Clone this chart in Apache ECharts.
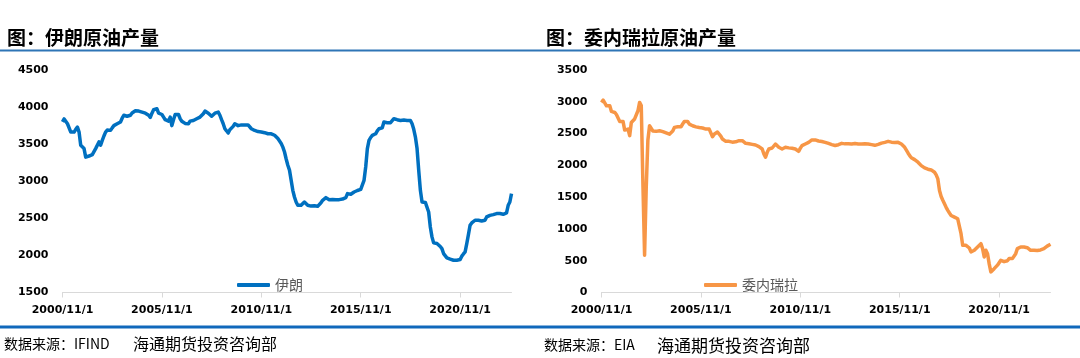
<!DOCTYPE html>
<html>
<head>
<meta charset="utf-8">
<script src="https://cdn.jsdelivr.net/npm/echarts@6/dist/echarts.min.js"></script>
<style>
html,body{margin:0;padding:0;background:#fff;}
#c{width:1080px;height:358px;}
</style>
</head>
<body>
<div id="c"></div>
<script>
// Monthly dates from 2000/11 to 2023/6 (categories)
const startYear = 2000, startMonth = 11, monthCount = 272;
const categories = [];
for (let i = 0; i < monthCount; i++) {
  const t = startYear * 12 + (startMonth - 1) + i;
  categories.push(Math.floor(t / 12) + '/' + (t % 12 + 1) + '/1');
}

const titleLeft = '图：伊朗原油产量';
const titleRight = '图：委内瑞拉原油产量';
const sourceLeft = ['数据来源：IFIND', '海通期货投资咨询部'];
const sourceRight = ['数据来源：EIA', '海通期货投资咨询部'];
const seriesLeftName = '伊朗';
const seriesRightName = '委内瑞拉';

// Iran crude production (kb/d), monthly
const iran = [
3800,3840,3830,3775,3800,3663,3670,3663,3700,3730,3663,3484,
3460,3440,3325,3325,3340,3350,3360,3370,3440,3420,3530,3485,
3550,3610,3663,3690,3710,3686,3720,3750,3760,3775,3780,3800,
3850,3890,3880,3876,3885,3890,3920,3946,3950,3946,3946,3940,
3932,3925,3918,3905,3890,3860,3918,3964,3970,3977,3918,3910,
3900,3865,3830,3820,3811,3865,3750,3830,3900,3905,3900,3843,
3810,3789,3780,3790,3775,3811,3815,3820,3830,3843,3850,3865,
3890,3910,3946,3930,3918,3910,3876,3900,3918,3925,3932,3890,
3830,3775,3708,3680,3650,3695,3720,3740,3775,3760,3750,3740,
3760,3775,3760,3740,3760,3775,3708,3700,3685,3675,3670,3663,
3665,3663,3655,3650,3640,3645,3640,3640,3620,3596,3575,3550,
3510,3460,3394,3300,3215,3150,3125,2878,2788,2720,2676,2680,
2676,2700,2720,2700,2676,2670,2665,2662,2670,2665,2662,2685,
2710,2743,2760,2779,2765,2752,2750,2755,2752,2750,2755,2752,
2752,2760,2770,2779,2833,2820,2824,2840,2855,2860,2875,2887,
2890,2887,3013,3192,3440,3550,3590,3618,3630,3640,3680,3708,
3715,3720,3798,3811,3790,3775,3790,3811,3843,3835,3830,3825,
3820,3820,3825,3820,3820,3820,3820,3775,3700,3596,3440,3147,
2878,2720,2720,2715,2710,2586,2384,2250,2169,2160,2160,2140,
2120,2092,2025,2000,1967,1960,1950,1944,1935,1935,1935,1938,
1944,1990,2020,2048,2160,2280,2406,2438,2460,2474,2474,2474,
2470,2465,2470,2474,2519,2530,2540,2545,2550,2555,2564,2560,
2564,2560,2555,2560,2573,2676,2720,2833
];

// Venezuela crude production (kb/d), monthly
const venezuela = [
2990,3026,3005,2937,2940,2937,2848,2840,2832,2800,2780,2691,
2700,2691,2555,2545,2571,2467,2675,2702,2730,2754,2859,2990,
2940,1700,585,1650,2400,2623,2597,2540,2519,2535,2540,2545,
2545,2530,2519,2510,2503,2490,2467,2540,2597,2600,2608,2605,
2608,2650,2691,2695,2691,2649,2635,2623,2615,2605,2597,2595,
2590,2587,2580,2571,2575,2570,2571,2451,2490,2519,2525,2519,
2460,2414,2395,2378,2380,2378,2370,2365,2362,2370,2380,2388,
2385,2388,2360,2346,2345,2340,2336,2330,2325,2320,2310,2295,
2280,2258,2179,2127,2205,2258,2265,2273,2300,2336,2310,2284,
2270,2258,2270,2284,2280,2275,2273,2270,2265,2258,2240,2221,
2270,2310,2320,2336,2350,2362,2380,2400,2414,2400,2388,2383,
2378,2375,2370,2362,2355,2345,2335,2326,2315,2312,2310,2325,
2340,2346,2340,2338,2336,2340,2336,2336,2340,2345,2338,2336,
2335,2336,2336,2338,2336,2336,2330,2326,2320,2315,2310,2330,
2346,2350,2355,2362,2370,2378,2370,2365,2362,2360,2362,2362,
2350,2336,2310,2284,2240,2195,2153,2120,2101,2090,2075,2050,
2020,1996,1980,1960,1944,1940,1935,1928,1910,1892,1850,1787,
1604,1510,1450,1395,1340,1291,1250,1212,1200,1186,1175,1160,
1134,925,742,760,742,768,700,638,650,664,690,716,
740,768,690,559,664,611,450,324,350,375,402,430,
455,507,495,485,481,500,533,525,533,560,611,690,
700,716,710,716,712,705,690,664,670,665,664,660,
664,670,664,690,716,730,742,758
];

const yLeft = {min: 1500, max: 4500, interval: 500};
const yRight = {min: 0, max: 3500, interval: 500};

const BLUE = '#0070c0';
const ORANGE = '#f79646';
const axisFont = {fontFamily: 'DejaVu Sans', fontWeight: 'bold', fontSize: 11, color: '#000'};

function xAxisFor(gridIndex) {
  return {
    type: 'category', gridIndex, data: categories, boundaryGap: false,
    axisLine: {lineStyle: {color: '#d9d9d9', width: 1}},
    axisTick: {show: true, interval: 59, length: 5, lineStyle: {color: '#d9d9d9'}},
    axisLabel: Object.assign({interval: 59, margin: 12}, axisFont),
    splitLine: {show: false}
  };
}
function yAxisFor(gridIndex, r) {
  return {
    type: 'value', gridIndex, min: r.min, max: r.max, interval: r.interval,
    axisLine: {show: false}, axisTick: {show: false}, splitLine: {show: false},
    axisLabel: Object.assign({margin: 14, formatter: v => String(v)}, axisFont)
  };
}
function legendFor(name, left) {
  return {
    data: [name], left, top: 278, padding: 0, icon: 'roundRect',
    itemWidth: 33, itemHeight: 4, itemGap: 0,
    textStyle: {fontFamily: 'Noto Sans CJK SC', fontSize: 14, color: '#595959'}
  };
}

const chart = echarts.init(document.getElementById('c'), null, {renderer: 'canvas'});
chart.setOption({
  animation: false,
  backgroundColor: '#fff',
  grid: [
    {left: 62.5, top: 70, width: 449, height: 222.5},
    {left: 601.5, top: 70, width: 449, height: 222.5}
  ],
  xAxis: [xAxisFor(0), xAxisFor(1)],
  yAxis: [yAxisFor(0, yLeft), yAxisFor(1, yRight)],
  legend: [legendFor(seriesLeftName, 237), legendFor(seriesRightName, 704)],
  series: [
    {name: seriesLeftName, type: 'line', xAxisIndex: 0, yAxisIndex: 0, data: iran,
     symbol: 'none', color: BLUE, lineStyle: {width: 3.5, color: BLUE, join: 'round'}},
    {name: seriesRightName, type: 'line', xAxisIndex: 1, yAxisIndex: 1, data: venezuela,
     symbol: 'none', color: ORANGE, lineStyle: {width: 3.5, color: ORANGE, join: 'round'}}
  ],
  graphic: [
    {type: 'text', left: 7, top: 28, style: {text: titleLeft, font: 'bold 19px "Noto Sans CJK SC"', fill: '#000'}},
    {type: 'text', left: 546, top: 28, style: {text: titleRight, font: 'bold 19px "Noto Sans CJK SC"', fill: '#000'}},
    {type: 'rect', left: 0, top: 49.5, shape: {width: 1080, height: 2}, style: {fill: '#2e75b6'}},
    {type: 'rect', left: 0, top: 325.5, shape: {width: 1080, height: 3}, style: {fill: '#1068bb'}},
    {type: 'text', left: 4, top: 337, style: {text: sourceLeft[0], font: '14px "Noto Sans CJK SC"', fill: '#000'}},
    {type: 'text', left: 133, top: 336, style: {text: sourceLeft[1], font: '16px "Noto Sans CJK SC"', fill: '#000'}},
    {type: 'text', left: 544, top: 338, style: {text: sourceRight[0], font: '14px "Noto Sans CJK SC"', fill: '#000'}},
    {type: 'text', left: 657, top: 337, style: {text: sourceRight[1], font: '17px "Noto Sans CJK SC"', fill: '#000'}}
  ]
});
</script>
</body>
</html>
